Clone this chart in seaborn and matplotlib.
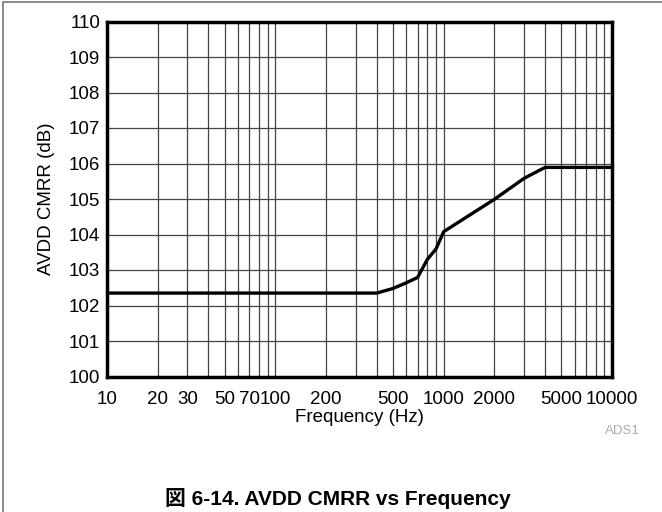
import matplotlib
matplotlib.use("Agg")
import matplotlib.pyplot as plt
import seaborn as sns
import pandas as pd
from matplotlib.ticker import FixedLocator, LogLocator, NullFormatter, FixedFormatter
from matplotlib.lines import Line2D

freq_hz = [10, 400, 500, 600, 700, 800, 900, 1000, 2000, 3000, 4000, 10000]
cmrr_db = [102.35, 102.35, 102.48, 102.64, 102.79, 103.30, 103.59, 104.08, 104.99, 105.58, 105.89, 105.89]
x_ticks = [10, 20, 30, 50, 70, 100, 200, 500, 1000, 2000, 5000, 10000]
x_labels = ["10", "20", "30", "50", "70", "100", "200", "500", "1000", "2000", "5000", "10000"]
y_ticks = list(range(100, 111))

sns.set_theme(style="white")
plt.rcParams['font.family'] = ['Liberation Sans', 'Noto Sans CJK JP', 'DejaVu Sans']

df = pd.DataFrame({"Frequency": freq_hz, "CMRR": cmrr_db})

fig = plt.figure(figsize=(6.62, 5.12), dpi=100)
ax = fig.add_axes([107/662, 1-376.5/512, (612-107)/662, (376.5-21.5)/512])

sns.lineplot(data=df, x="Frequency", y="CMRR", ax=ax, color="black", linewidth=2.4, zorder=5)

ax.set_xscale("log")
ax.set_xlim(10, 10000)
ax.set_ylim(100, 110)
ax.xaxis.set_major_locator(FixedLocator(x_ticks))
ax.xaxis.set_major_formatter(FixedFormatter(x_labels))
ax.xaxis.set_minor_locator(LogLocator(base=10, subs=range(1, 10), numticks=20))
ax.xaxis.set_minor_formatter(NullFormatter())
ax.set_yticks(y_ticks)
ax.set_yticklabels([str(v) for v in y_ticks])

ax.grid(True, which="both", axis="x", color="#444444", linewidth=0.9)
ax.grid(True, which="major", axis="y", color="#444444", linewidth=0.9)
ax.tick_params(axis="both", which="both", length=0, labelsize=13.5, colors="black")
ax.tick_params(axis="x", pad=10.4)
ax.tick_params(axis="y", pad=5)

for s in ax.spines.values():
    s.set_visible(True)
    s.set_color("black")
    s.set_linewidth(2.5)

ax.set_xlabel("Frequency (Hz)", fontsize=13.5, color="black", labelpad=1)
ax.set_ylabel("AVDD CMRR (dB)", fontsize=13.5, color="black", labelpad=10)

fig.text(622/662, 1-430.5/512, "ADS1", fontsize=9.5, color="#aaaaaa", ha="center", va="center")
fig.text(338/662, 1-505/512, "図 6-14. AVDD CMRR vs Frequency", fontsize=15, fontweight="bold",
         ha="center", va="baseline", color="black")

fig.lines.append(Line2D([3/662, 3/662, 1.0], [0.0, 1-2/512, 1-2/512], transform=fig.transFigure,
                        color="#777777", linewidth=1.2))

fig.savefig("out.png", dpi=100)
